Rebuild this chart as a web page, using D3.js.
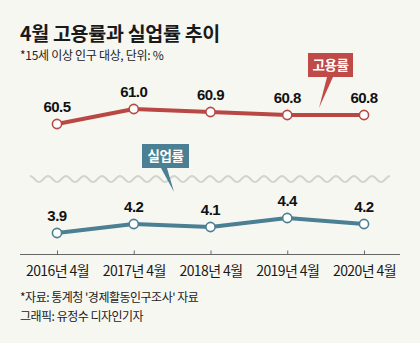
<!DOCTYPE html>
<html>
<head>
<meta charset="utf-8">
<script src="https://cdn.jsdelivr.net/npm/d3@7"></script>
<style>
  html, body { margin: 0; padding: 0; background: #f7f7f2; }
  svg { display: block; font-family: "Noto Sans CJK KR", "Noto Sans", sans-serif; }
</style>
</head>
<body>
<div id="chart"></div>
<script>
(function () {
  const WIDTH = 420;
  const HEIGHT = 343;

  // 연도 라벨과 두 지표 값 (%)
  const periods = ["2016년 4월", "2017년 4월", "2018년 4월", "2019년 4월", "2020년 4월"];
  const employment = [60.5, 61.0, 60.9, 60.8, 60.8];
  const unemployment = [3.9, 4.2, 4.1, 4.4, 4.2];

  const RED = "#b94844";
  const TEAL = "#4b7f93";

  const svg = d3.select("#chart").append("svg")
    .attr("width", WIDTH)
    .attr("height", HEIGHT);

  svg.append("rect")
    .attr("width", WIDTH).attr("height", HEIGHT)
    .attr("fill", "#f7f7f2");

  // 제목
  svg.append("text")
    .attr("x", 20).attr("y", 41)
    .attr("font-size", 19.5).attr("font-weight", 700)
    .attr("fill", "#1a1a1a")
    .attr("letter-spacing", -0.3)
    .text("4월 고용률과 실업률 추이");

  svg.append("text")
    .attr("x", 20).attr("y", 60)
    .attr("font-size", 12)
    .attr("fill", "#222")
    .attr("letter-spacing", -0.3)
    .text("*15세 이상 인구 대상, 단위: %");

  const x = d3.scalePoint()
    .domain(periods)
    .range([57, 364]);

  // 축이 끊긴 두 구간: 위는 고용률, 아래는 실업률
  const yEmp = d3.scaleLinear().domain([60.5, 61.0]).range([124, 109]);
  const yUnemp = d3.scaleLinear().domain([3.9, 4.4]).range([233, 218]);

  // 물결 모양 생략선
  const wave = d3.range(0, 360.5, 1.5).map(t => [30 + t, 179 - 3 * Math.cos(t / 18 * 2 * Math.PI)]);
  svg.append("path")
    .attr("d", d3.line()(wave))
    .attr("fill", "none")
    .attr("stroke", "#d3d3ce")
    .attr("stroke-width", 2);

  // x축
  svg.append("line")
    .attr("x1", 20).attr("x2", 400)
    .attr("y1", 254.5).attr("y2", 254.5)
    .attr("stroke", "#666").attr("stroke-width", 1);

  const axis = svg.append("g")
    .attr("transform", "translate(0,254.5)")
    .call(d3.axisBottom(x).tickSize(-4).tickPadding(12));
  axis.select(".domain").remove();
  axis.selectAll(".tick line").attr("stroke", "#666");
  axis.selectAll(".tick text")
    .attr("font-family", "\"Noto Sans CJK KR\", sans-serif")
    .attr("font-size", 14)
    .attr("letter-spacing", -0.6)
    .attr("fill", "#1a1a1a");

  function drawSeries(values, y, color) {
    const pts = values.map((v, i) => ({ label: periods[i], value: v }));
    const g = svg.append("g");

    g.append("path")
      .datum(pts)
      .attr("fill", "none")
      .attr("stroke", color)
      .attr("stroke-width", 4)
      .attr("stroke-linejoin", "round")
      .attr("d", d3.line().x(d => x(d.label)).y(d => y(d.value)));

    g.selectAll("circle")
      .data(pts)
      .join("circle")
      .attr("cx", d => x(d.label))
      .attr("cy", d => y(d.value))
      .attr("r", 4.6)
      .attr("fill", "#fff")
      .attr("stroke", color)
      .attr("stroke-width", 1.6);

    g.selectAll("text")
      .data(pts)
      .join("text")
      .attr("x", d => x(d.label))
      .attr("y", d => y(d.value) - 12)
      .attr("text-anchor", "middle")
      .attr("font-family", "\"Liberation Sans\", Arial, sans-serif")
      .attr("font-size", 15)
      .attr("font-weight", 700)
      .attr("letter-spacing", -0.5)
      .attr("fill", "#111")
      .text(d => d.value.toFixed(1));
  }

  drawSeries(employment, yEmp, RED);
  drawSeries(unemployment, yUnemp, TEAL);

  // 범례 말풍선
  function callout(label, color, box, tip) {
    const g = svg.append("g");
    const bx = box[0], by = box[1], bw = box[2], bh = box[3];
    g.append("path")
      .attr("d", `M${tip[0] - 3},${by + bh} L${tip[0] + 3},${by + bh} L${tip[1]},${tip[2]} Z`)
      .attr("fill", color);
    g.append("rect")
      .attr("x", bx).attr("y", by)
      .attr("width", bw).attr("height", bh)
      .attr("fill", color);
    g.append("text")
      .attr("x", bx + bw / 2).attr("y", by + bh / 2 + 5)
      .attr("text-anchor", "middle")
      .attr("font-size", 13.5)
      .attr("font-weight", 700)
      .attr("letter-spacing", -0.5)
      .attr("fill", "#fff")
      .text(label);
  }

  callout("고용률", "#bf4a47", [308, 53, 45, 24], [330, 319, 108]);
  callout("실업률", TEAL, [142, 144, 47, 24], [164, 174, 192]);

  // 출처
  svg.append("text")
    .attr("x", 20).attr("y", 302)
    .attr("font-size", 12)
    .attr("letter-spacing", -0.5)
    .attr("fill", "#1a1a1a")
    .text("*자료: 통계청 '경제활동인구조사' 자료");

  svg.append("text")
    .attr("x", 20).attr("y", 321)
    .attr("font-size", 12)
    .attr("letter-spacing", -0.5)
    .attr("fill", "#1a1a1a")
    .text("그래픽: 유정수 디자인기자");
})();
</script>
</body>
</html>
